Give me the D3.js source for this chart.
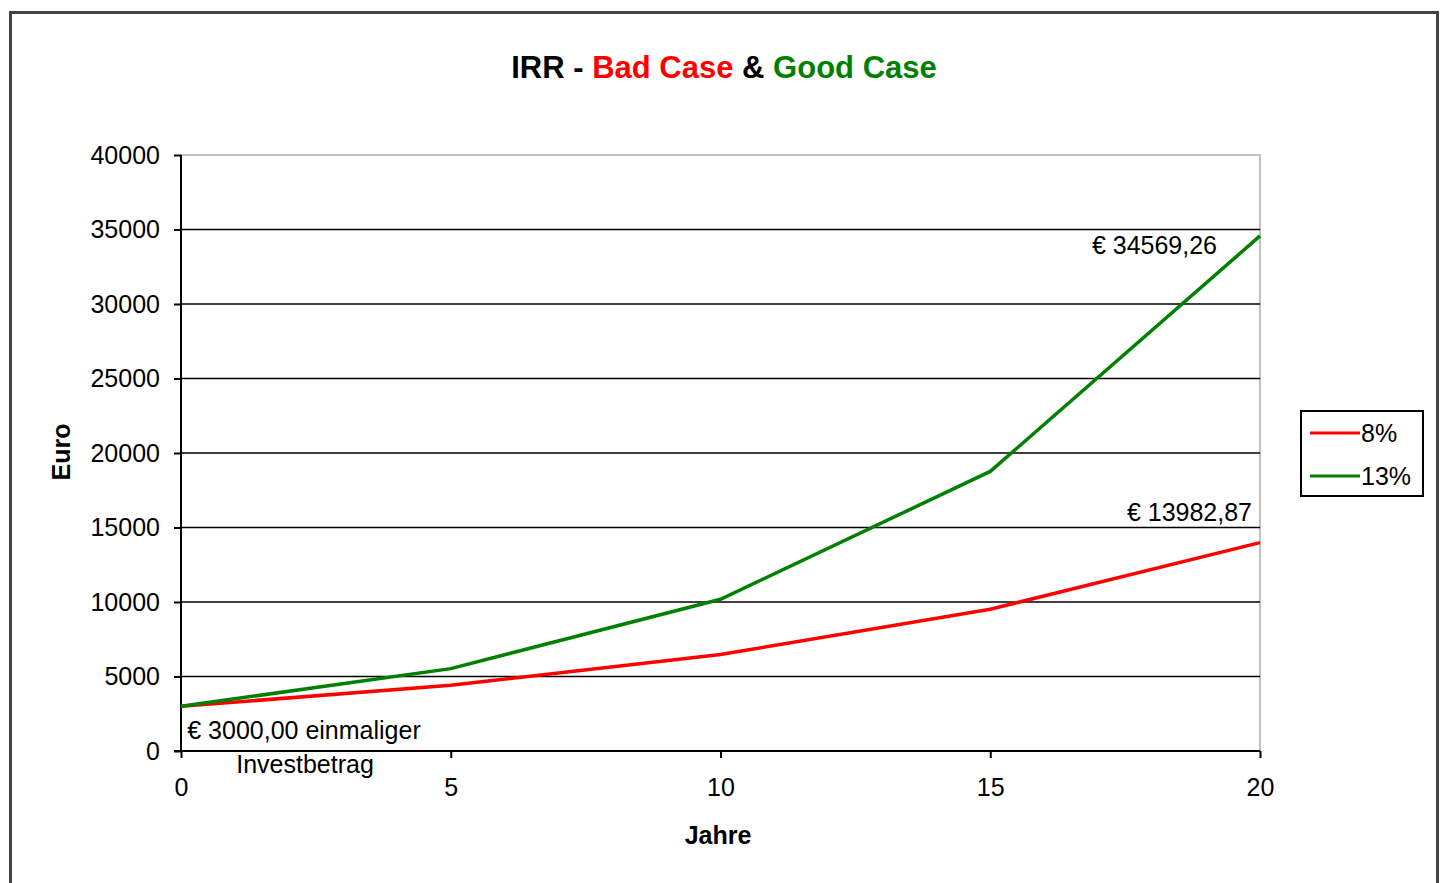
<!DOCTYPE html>
<html>
<head>
<meta charset="utf-8">
<script src="https://cdn.jsdelivr.net/npm/d3@7"></script>
<style>
  body { margin: 0; background: #fff; }
  svg { display: block; font-family: "Liberation Sans", Arial, sans-serif; }
</style>
</head>
<body>
<svg id="chart"></svg>
<script>
// data
var years = [0, 5, 10, 15, 20];
var badCase = [3000, 4407.98, 6476.77, 9516.51, 13982.87];   // 8%
var goodCase = [3000, 5527.31, 10183.70, 18762.90, 34569.26]; // 13%
var xTicks = [0, 5, 10, 15, 20];
var yTicks = [0, 5000, 10000, 15000, 20000, 25000, 30000, 35000, 40000];
var seriesNames = ["8%", "13%"];

var W = 1447, H = 883;
var margin = { top: 155, right: 187, bottom: 132, left: 181 };
var w = W - margin.left - margin.right,
    h = H - margin.top - margin.bottom;

var svg = d3.select("#chart").attr("width", W).attr("height", H);

// outer chart border (bottom edge is cut off in the original)
svg.append("path")
  .attr("d", "M10.5,890 V12.5 H1437.5 V890")
  .attr("fill", "none")
  .attr("stroke", "#444")
  .attr("stroke-width", 3);

// title
var title = svg.append("text")
  .attr("x", 724).attr("y", 78)
  .attr("text-anchor", "middle")
  .attr("font-size", 31).attr("font-weight", "bold");
title.append("tspan").attr("fill", "#000").text("IRR - ");
title.append("tspan").attr("fill", "#ff0000").text("Bad Case");
title.append("tspan").attr("fill", "#000").text(" & ");
title.append("tspan").attr("fill", "#008000").text("Good Case");

var g = svg.append("g").attr("transform", "translate(" + margin.left + "," + margin.top + ")");

var x = d3.scaleLinear().domain([0, 20]).range([0, w]);
var y = d3.scaleLinear().domain([0, 40000]).range([h, 0]);

// plot area border (grey)
g.append("rect")
  .attr("x", 0).attr("y", 0).attr("width", w).attr("height", h)
  .attr("fill", "none").attr("stroke", "#c0c0c0").attr("stroke-width", 2);

// gridlines
g.selectAll(".grid")
  .data(yTicks.filter(function (d) { return d > 0 && d < 40000; }))
  .enter().append("line")
  .attr("x1", 0).attr("x2", w)
  .attr("y1", function (d) { return y(d); })
  .attr("y2", function (d) { return y(d); })
  .attr("stroke", "#000").attr("stroke-width", 1.5);

// axes
var yAxis = g.append("g")
  .call(d3.axisLeft(y).tickValues(yTicks).tickSize(7).tickPadding(14).tickFormat(d3.format("d")));
var xAxis = g.append("g")
  .attr("transform", "translate(0," + h + ")")
  .call(d3.axisBottom(x).tickValues(xTicks).tickSize(7).tickPadding(20).tickFormat(d3.format("d")));

[yAxis, xAxis].forEach(function (a) {
  a.select(".domain").attr("stroke", "#000").attr("stroke-width", 2);
  a.selectAll(".tick line").attr("stroke", "#000").attr("stroke-width", 2);
  a.selectAll(".tick text").attr("font-size", 25).attr("fill", "#000")
    .attr("font-family", "Liberation Sans, Arial, sans-serif");
});
yAxis.select(".domain").attr("d", "M0," + h + "V0");
xAxis.select(".domain").attr("d", "M-7,0H" + w);

// series lines
var line = d3.line()
  .x(function (d) { return x(d[0]); })
  .y(function (d) { return y(d[1]); });

var series = [
  { name: seriesNames[0], color: "#ff0000", values: years.map(function (yr, i) { return [yr, badCase[i]]; }) },
  { name: seriesNames[1], color: "#008000", values: years.map(function (yr, i) { return [yr, goodCase[i]]; }) }
];

g.selectAll(".series")
  .data(series)
  .enter().append("path")
  .attr("fill", "none")
  .attr("stroke", function (d) { return d.color; })
  .attr("stroke-width", 3.5)
  .attr("d", function (d) { return line(d.values); });

// data labels
function fmtEuro(v) { return "€ " + v.toFixed(2).replace(".", ","); }

g.append("text")
  .attr("x", x(20) - 43).attr("y", y(goodCase[4]) + 18)
  .attr("text-anchor", "end").attr("font-size", 25)
  .text(fmtEuro(goodCase[4]));

g.append("text")
  .attr("x", x(20) - 8).attr("y", y(badCase[4]) - 22)
  .attr("text-anchor", "end").attr("font-size", 25)
  .text(fmtEuro(badCase[4]));

var startLbl = g.append("text")
  .attr("x", x(0) + 123).attr("y", y(badCase[0]) + 33)
  .attr("text-anchor", "middle").attr("font-size", 25);
startLbl.append("tspan").text(fmtEuro(badCase[0]) + " einmaliger");
startLbl.append("tspan").attr("x", x(0) + 124).attr("dy", 34).text("Investbetrag");

// axis titles
svg.append("text")
  .attr("transform", "translate(70,452) rotate(-90)")
  .attr("text-anchor", "middle").attr("font-size", 25).attr("font-weight", "bold")
  .text("Euro");

svg.append("text")
  .attr("x", 718).attr("y", 844)
  .attr("text-anchor", "middle").attr("font-size", 25).attr("font-weight", "bold")
  .text("Jahre");

// legend
var legend = svg.append("g").attr("transform", "translate(1301,411)");
legend.append("rect")
  .attr("width", 122).attr("height", 85)
  .attr("fill", "#fff").attr("stroke", "#000").attr("stroke-width", 2);
var li = legend.selectAll(".li")
  .data(series)
  .enter().append("g")
  .attr("transform", function (d, i) { return "translate(0," + (22 + i * 43) + ")"; });
li.append("line")
  .attr("x1", 9).attr("x2", 59)
  .attr("stroke", function (d) { return d.color; })
  .attr("stroke-width", 3);
li.append("text")
  .attr("x", 60).attr("y", 9)
  .attr("font-size", 25)
  .text(function (d) { return d.name; });
</script>
</body>
</html>
